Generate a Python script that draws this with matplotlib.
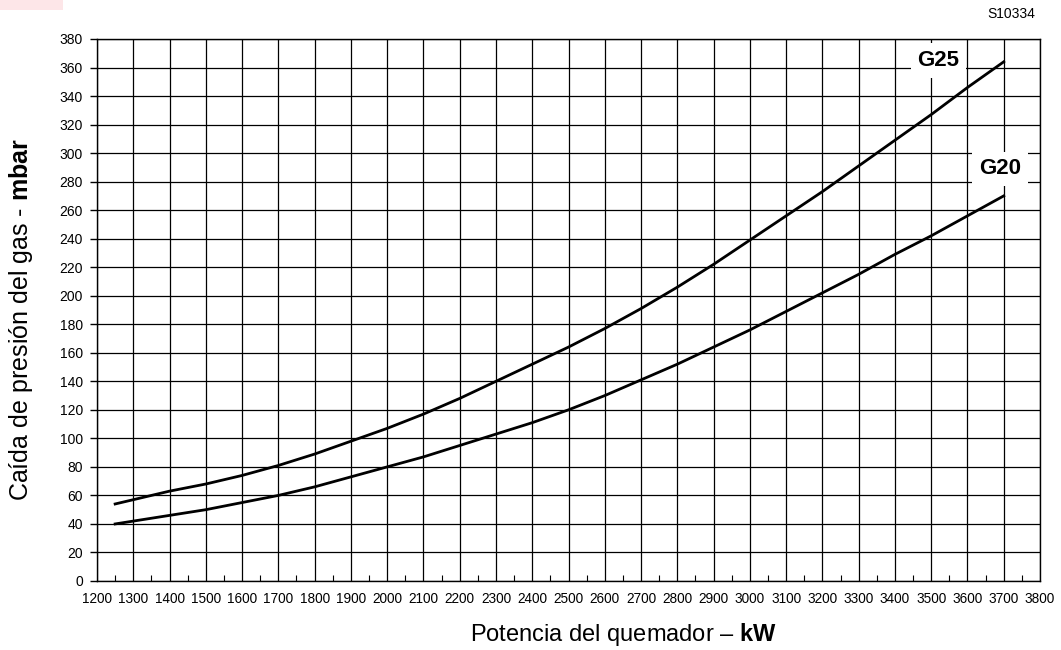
import matplotlib
matplotlib.use("Agg")
import matplotlib.pyplot as plt
from matplotlib.patches import Rectangle
from matplotlib.ticker import MultipleLocator

plt.rcParams["font.family"] = ["Liberation Sans", "DejaVu Sans"]
plt.rcParams["mathtext.fontset"] = "custom"
plt.rcParams["mathtext.rm"] = "Liberation Sans"
plt.rcParams["mathtext.bf"] = "Liberation Sans:bold"

# ---------------------------------------------------------------------------
# Data
# ---------------------------------------------------------------------------
power_kw = [1250, 1300, 1400, 1500, 1600, 1700, 1800, 1900, 2000, 2100, 2200,
            2300, 2400, 2500, 2600, 2700, 2800, 2900, 3000, 3100, 3200, 3300,
            3400, 3500, 3600, 3700]
g25_mbar = [54, 57, 63, 68, 74, 81, 89, 98, 107, 117, 128, 140, 152, 164, 177,
            191, 206, 222, 239, 256, 273, 291, 309, 327, 346, 364]
g20_mbar = [40, 42, 46, 50, 55, 60, 66, 73, 80, 87, 95, 103, 111, 120, 130,
            141, 152, 164, 176, 189, 202, 215, 229, 242, 256, 270]

curve_labels = ["G25", "G20"]
label_pos = [(3520, 365), (3690, 289)]

x_ticks = list(range(1200, 3801, 100))
y_ticks = list(range(0, 381, 20))

# ---------------------------------------------------------------------------
# Plot
# ---------------------------------------------------------------------------
fig = plt.figure(figsize=(10.61, 6.5), dpi=100)
ax = fig.add_axes([97 / 1061, 69 / 650, 943 / 1061, 542 / 650])

ax.plot(power_kw, g25_mbar, color="black", lw=2.0, zorder=3)
ax.plot(power_kw, g20_mbar, color="black", lw=2.0, zorder=3)

for lab, (lx, ly) in zip(curve_labels, label_pos):
    ax.text(lx, ly, lab, ha="center", va="center", fontsize=16,
            fontweight="bold", zorder=4,
            bbox=dict(boxstyle="square,pad=0.3", fc="white", ec="none"))

ax.set_xlim(1200, 3800)
ax.set_ylim(0, 380)
ax.set_xticks(x_ticks)
ax.set_yticks(y_ticks)
ax.xaxis.set_minor_locator(MultipleLocator(50))
ax.tick_params(axis="x", which="major", length=0, labelsize=9.8, pad=8)
ax.tick_params(axis="x", which="minor", direction="in", length=4, width=0.8)
ax.tick_params(axis="y", which="major", direction="out", length=5,
               width=1, labelsize=10, pad=5)
ax.grid(True, which="major", color="black", lw=0.9)
for s in ax.spines.values():
    s.set_linewidth(1.0)

fig.text(623 / 1061, 1 - 634 / 650, r"Potencia del quemador – $\bf{kW}$",
         ha="center", va="center", fontsize=17)
fig.text(21 / 1061, 1 - 320 / 650, r"Caída de presión del gas - $\bf{mbar}$",
         ha="center", va="center", fontsize=18, rotation=90)
fig.text(1035 / 1061, 1 - 14 / 650, "S10334", ha="right", va="center",
         fontsize=10)

fig.patches.append(Rectangle((0, 1 - 10 / 650), 63 / 1061, 10 / 650,
                             transform=fig.transFigure, fc="#fde6e8",
                             ec="none"))

fig.savefig("out.png", dpi=100)
